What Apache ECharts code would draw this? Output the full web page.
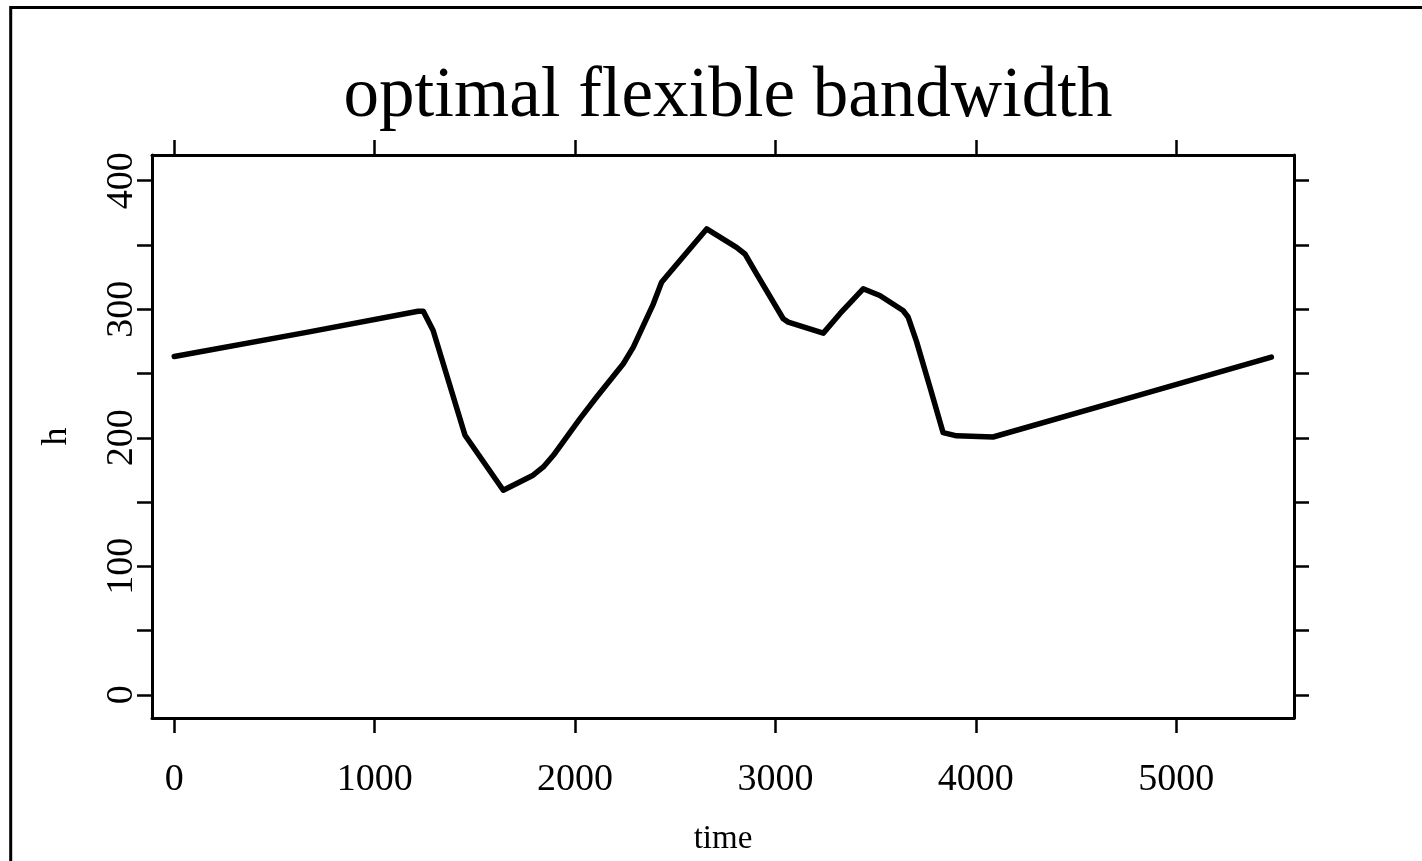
<!DOCTYPE html>
<html>
<head>
<meta charset="utf-8">
<title>optimal flexible bandwidth</title>
<script src="https://cdn.jsdelivr.net/npm/echarts@6/dist/echarts.min.js"></script>
<style>
  html, body { margin: 0; padding: 0; background: #fff; }
  #chart { width: 1422px; height: 861px; }
</style>
</head>
<body>
<div id="chart"></div>
<script>
// values
const timeVals = [0, 660, 1217, 1243, 1292, 1451, 1642, 1791, 1842, 1892, 2025, 2108, 2241, 2291, 2391, 2432, 2474, 2657, 2806, 2848, 2906, 3039, 3064, 3239, 3322, 3438, 3521, 3637, 3662, 3704, 3771, 3837, 3904, 4086, 4785, 5475]
const hVals = [263.3, 282, 298.5, 298.5, 283.5, 202, 159.2, 170.9, 177.3, 186.4, 214.9, 231.7, 257.6, 270.5, 304.2, 321, 328.8, 362.5, 348.2, 343, 327.5, 292.6, 290, 281.4, 296.5, 315.9, 310.7, 299, 294, 275, 239.5, 204, 201.5, 200.6, 231.8, 262.8]

const xTicks = [0, 1000, 2000, 3000, 4000, 5000]
const yTicks = [0, 50, 100, 150, 200, 250, 300, 350, 400]
const yLabels = [0, 100, 200, 300, 400]

const FONT = 'Liberation Serif'
const xRange = { min: -111, max: 5588 }
const yRange = { min: -18, max: 420 }

const chart = echarts.init(document.getElementById('chart'))

const lineStyle = { color: '#000', width: 3 }
const tickStyle = { length: 15, lineStyle: { color: '#000', width: 2.5 } }
const plain = (v) => String(v)

const option = {
  backgroundColor: '#fff',
  animation: false,
  title: {
    text: 'optimal flexible bandwidth',
    left: 723,
    top: 57,
    textAlign: 'center',
    textStyle: { fontFamily: FONT, fontWeight: 'normal', fontSize: 71, color: '#000' },
  },
  grid: { left: 152, right: 128, top: 155, bottom: 143 },
  xAxis: [
    {
      type: 'value',
      ...xRange,
      position: 'bottom',
      name: 'time',
      nameLocation: 'middle',
      nameGap: 105,
      nameTextStyle: { fontFamily: FONT, fontSize: 33, color: '#000' },
      axisLine: { show: true, onZero: false, lineStyle },
      axisTick: { show: true, ...tickStyle, customValues: xTicks },
      axisLabel: { customValues: xTicks, formatter: plain, margin: 43, fontFamily: FONT, fontSize: 38, color: '#000' },
      splitLine: { show: false },
    },
    {
      type: 'value',
      ...xRange,
      position: 'top',
      axisLine: { show: true, onZero: false, lineStyle },
      axisTick: { show: true, ...tickStyle, customValues: xTicks },
      axisLabel: { show: false },
      splitLine: { show: false },
    },
  ],
  yAxis: [
    {
      type: 'value',
      ...yRange,
      position: 'left',
      name: 'h',
      nameLocation: 'middle',
      nameGap: 77,
      nameRotate: 90,
      nameTextStyle: { fontFamily: FONT, fontSize: 36, color: '#000' },
      axisLine: { show: true, onZero: false, lineStyle },
      axisTick: { show: true, ...tickStyle, customValues: yTicks },
      axisLabel: { customValues: yLabels, formatter: plain, rotate: 90, margin: 11, fontFamily: FONT, fontSize: 38, color: '#000' },
      splitLine: { show: false },
    },
    {
      type: 'value',
      ...yRange,
      position: 'right',
      axisLine: { show: true, onZero: false, lineStyle },
      axisTick: { show: true, ...tickStyle, customValues: yTicks },
      axisLabel: { show: false },
      splitLine: { show: false },
    },
  ],
  graphic: [
    {
      type: 'rect',
      shape: { x: 10.7, y: 7.5, width: 1600, height: 1000 },
      style: { fill: null, stroke: '#000', lineWidth: 3 },
      silent: true,
    },
  ],
  series: [
    {
      type: 'line',
      xAxisIndex: 0,
      yAxisIndex: 0,
      data: timeVals.map((t, i) => [t, hVals[i]]),
      showSymbol: false,
      lineStyle: { color: '#000', width: 5.5, join: 'round', cap: 'round' },
    },
  ],
}

chart.setOption(option)
</script>
</body>
</html>
